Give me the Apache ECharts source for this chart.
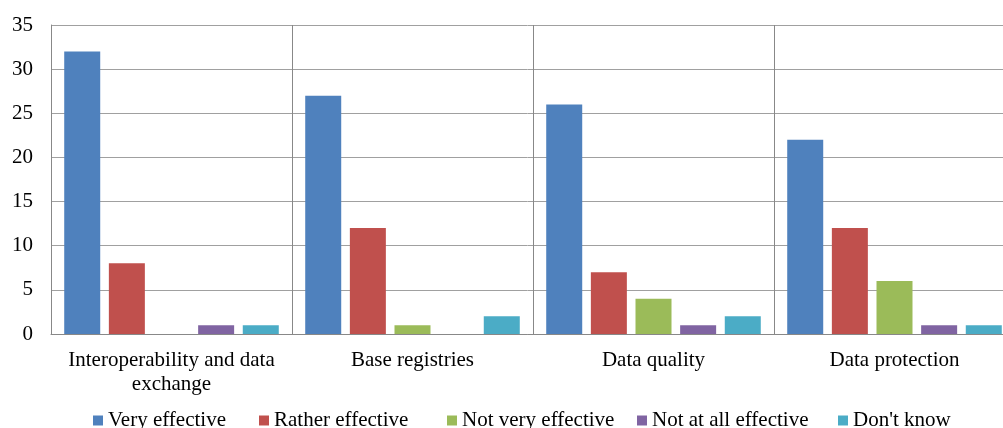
<!DOCTYPE html>
<html>
<head>
<meta charset="utf-8">
<script src="https://cdn.jsdelivr.net/npm/echarts@6/dist/echarts.min.js"></script>
<style>
html,body{margin:0;padding:0;background:#fff;}
#chart{width:1003px;height:428px;}
</style>
</head>
<body>
<div id="chart"></div>
<script>
const categories = ['Interoperability and data\nexchange', 'Base registries', 'Data quality', 'Data protection'];
const seriesNames = ['Very effective', 'Rather effective', 'Not very effective', 'Not at all effective', "Don't know"];
const veryEffective = [32, 27, 26, 22];
const ratherEffective = [8, 12, 7, 12];
const notVeryEffective = [0, 1, 4, 6];
const notAtAllEffective = [1, 0, 1, 1];
const dontKnow = [1, 2, 2, 1];
const colors = ['#4F81BD', '#C0504D', '#9BBB59', '#8064A2', '#4BACC6'];

const values = [veryEffective, ratherEffective, notVeryEffective, notAtAllEffective, dontKnow];
const font = 'Liberation Serif, Times New Roman, serif';

// one legend block per series so each key sits in its own slot
const legendLeft = [93, 259, 447, 637, 838];
const legends = seriesNames.map((name, i) => ({
  top: 410,
  left: legendLeft[i],
  padding: 0,
  icon: 'rect',
  itemWidth: 10,
  itemHeight: 10,
  textStyle: { fontFamily: font, fontSize: 21, color: '#000' },
  data: [name]
}));

const chart = echarts.init(document.getElementById('chart'));
chart.setOption({
  animation: false,
  textStyle: { fontFamily: font },
  legend: legends,
  grid: { left: 51, width: 964, top: 25, height: 309, containLabel: false, outerBoundsMode: 'none' },
  xAxis: {
    type: 'category',
    data: categories,
    axisLine: { show: true, lineStyle: { color: '#888', width: 1 } },
    axisTick: { show: false },
    splitLine: { show: true, interval: 0, lineStyle: { color: '#888', width: 1 } },
    axisLabel: { interval: 0, fontFamily: font, fontSize: 21, color: '#000', margin: 14, lineHeight: 24 }
  },
  yAxis: {
    type: 'value',
    min: 0, max: 35, interval: 5,
    axisLine: { show: true, lineStyle: { color: '#888', width: 1 } },
    axisTick: { show: false },
    splitLine: { show: true, lineStyle: { color: '#a0a0a0', width: 1 } },
    axisLabel: { fontFamily: font, fontSize: 21, color: '#000', margin: 18 }
  },
  series: seriesNames.map((name, i) => ({
    name: name,
    type: 'bar',
    data: values[i],
    barWidth: 36,
    barGap: '24%',
    itemStyle: { color: colors[i] }
  }))
});
</script>
</body>
</html>
